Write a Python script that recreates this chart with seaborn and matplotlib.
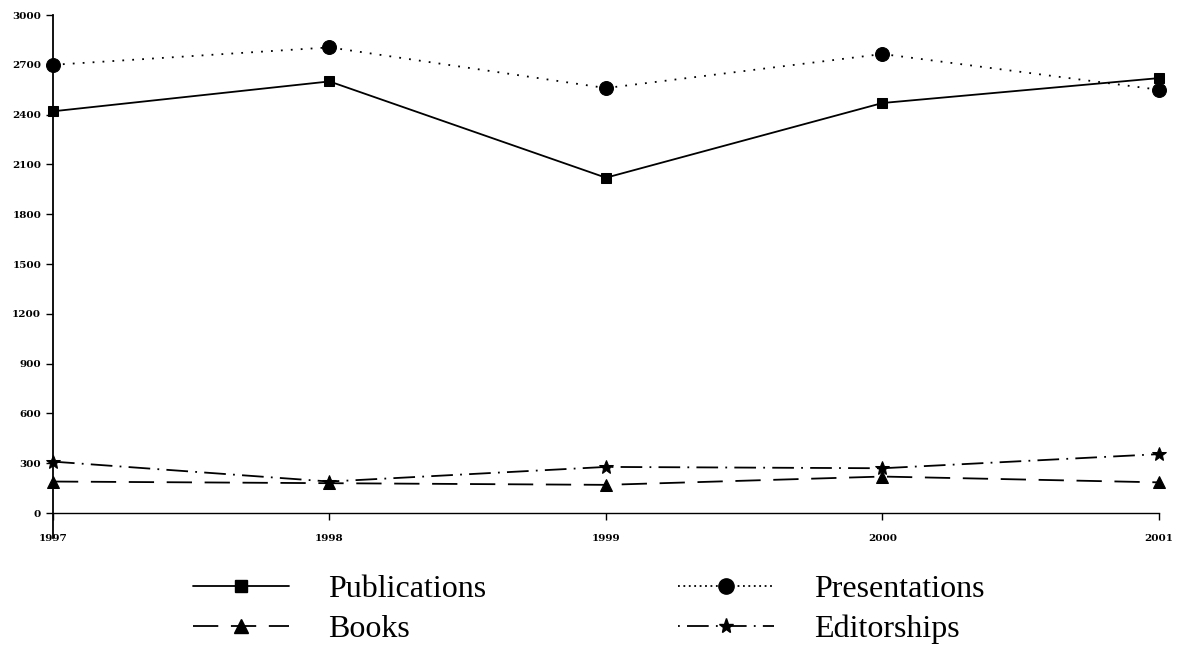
#!/usr/bin/env python3
"""
Faculty scholarly output 1997-2001, redrawn with seaborn
"""

import pandas as pd
import matplotlib
matplotlib.use('Agg')
import matplotlib.pyplot as plt
import seaborn as sns

# Data
years = [1997, 1998, 1999, 2000, 2001]
publications = [2420, 2600, 2020, 2470, 2620]
presentations = [2700, 2805, 2560, 2765, 2550]
books = [190, 180, 170, 220, 185]
editorships = [310, 190, 278, 270, 355]

series_names = ['Publications', 'Presentations', 'Books', 'Editorships']
y_ticks = list(range(0, 3001, 300))


def build_frame():
    """Long-form table for seaborn"""
    rows = []
    for name, vals in zip(series_names, [publications, presentations, books, editorships]):
        for yr, v in zip(years, vals):
            rows.append({'Year': yr, 'Count': v, 'Series': name})
    return pd.DataFrame(rows)


def main():
    sns.set_style('ticks')
    plt.rcParams['font.family'] = ['DejaVu Serif']
    plt.rcParams['text.color'] = 'black'
    plt.rcParams['xtick.color'] = 'black'
    plt.rcParams['ytick.color'] = 'black'
    plt.rcParams['axes.edgecolor'] = 'black'

    df = build_frame()

    fig = plt.figure(figsize=(11.82, 6.47), dpi=100)
    ax = fig.add_axes([0.0448, 0.1685, 0.9357, 0.8083])

    markers = {'Publications': 's', 'Presentations': 'o', 'Books': '^', 'Editorships': '*'}
    dashes = {'Publications': '', 'Presentations': (1, 4.5),
              'Books': (14, 7), 'Editorships': (12, 4, 1, 4)}
    msizes = {'Publications': 7, 'Presentations': 10, 'Books': 9, 'Editorships': 10}
    palette = {n: 'black' for n in series_names}

    sns.lineplot(data=df, x='Year', y='Count', hue='Series', style='Series',
                 hue_order=series_names, style_order=series_names,
                 palette=palette, markers=markers, dashes=dashes,
                 linewidth=1.3, markeredgecolor='black',
                 ax=ax, legend=False)

    for line, name in zip(ax.get_lines(), series_names):
        line.set_markersize(msizes[name])
        line.set_clip_on(False)

    ax.set_xlim(1997, 2001)
    ax.set_ylim(-150, 3000)
    ax.set_xticks(years)
    ax.set_xticklabels([str(y) for y in years])
    ax.set_yticks(y_ticks)
    ax.set_yticklabels([str(t) for t in y_ticks])
    ax.set_xlabel('')
    ax.set_ylabel('')

    sns.despine(ax=ax)
    ax.spines['bottom'].set_position(('data', 0))
    ax.spines['left'].set_linewidth(1.3)
    ax.spines['bottom'].set_linewidth(1.0)
    ax.tick_params(axis='both', labelsize=7.5, length=5, width=1)
    ax.tick_params(axis='x', pad=10)
    for lab in ax.get_xticklabels() + ax.get_yticklabels():
        lab.set_fontweight('bold')

    # Legend under the plot, two columns
    handles = [
        plt.Line2D([], [], color='black', lw=1.3, marker='s', markersize=9),
        plt.Line2D([], [], color='black', lw=1.3, marker='o', markersize=11, dashes=(1, 2)),
        plt.Line2D([], [], color='black', lw=1.3, marker='^', markersize=10, dashes=(14, 7)),
        plt.Line2D([], [], color='black', lw=1.3, marker='*', markersize=11, dashes=(1, 4, 12, 4)),
    ]
    order = [0, 2, 1, 3]
    fig.legend([handles[i] for i in order], [series_names[i] for i in order],
               loc='center', bbox_to_anchor=(0.498, 0.058), ncol=2, frameon=False,
               prop={'family': 'Liberation Serif', 'size': 23},
               handlelength=3.0, handletextpad=1.25, columnspacing=6.0,
               labelspacing=0.35)

    fig.savefig('out.png', dpi=100, facecolor='white')
    plt.close(fig)


if __name__ == "__main__":
    main()
